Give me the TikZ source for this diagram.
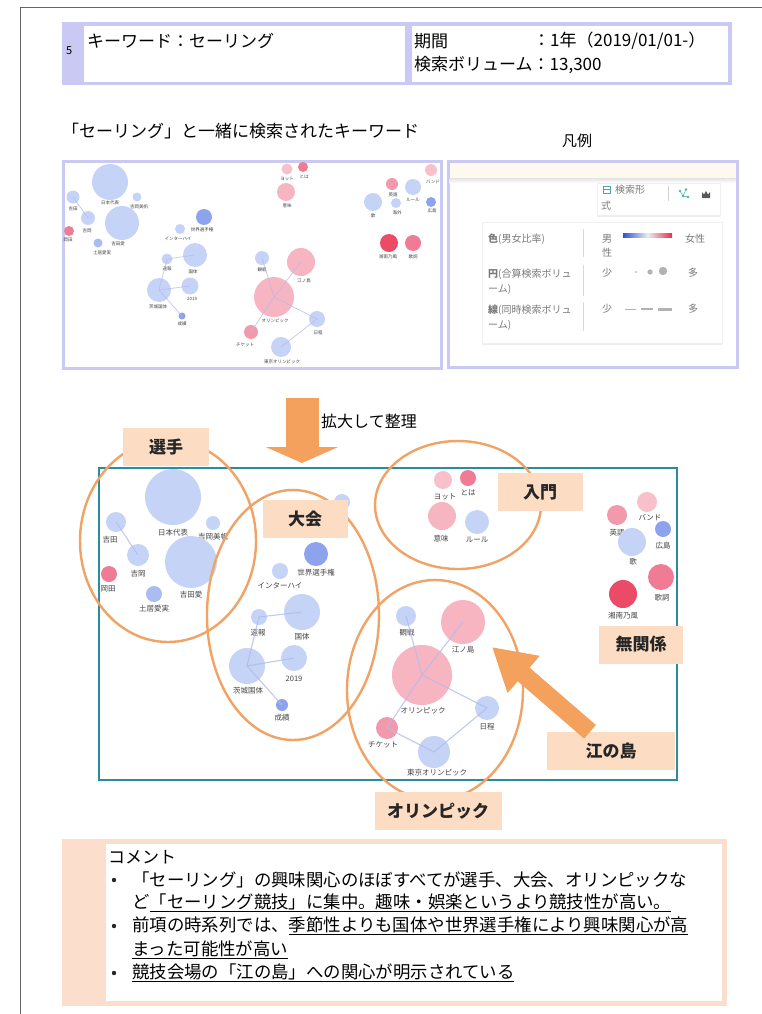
\documentclass[tikz,border=0pt]{standalone}
\usepackage{fontspec}
\setmainfont{Noto Sans CJK JP}
\usetikzlibrary{arrows.meta,shadows,shapes.geometric}
\newcommand\myfs[1]{\fontsize{#1pt}{#1pt}\selectfont}
\definecolor{lav}{HTML}{C9C9F4}
\definecolor{bl}{HTML}{C5D3F6}
\definecolor{bm}{HTML}{AABCF2}
\definecolor{bd}{HTML}{8EA3EE}
\definecolor{pk}{HTML}{F6B5C1}
\definecolor{pl}{HTML}{F7C0CA}
\definecolor{pm}{HTML}{F29AAC}
\definecolor{rd}{HTML}{F07B95}
\definecolor{rr}{HTML}{EC4B68}
\definecolor{org}{HTML}{F4A15E}
\definecolor{orgl}{HTML}{F0A365}
\definecolor{peach}{HTML}{FDDCC4}
\definecolor{peachl}{HTML}{FBDFCC}
\definecolor{tealc}{HTML}{2B8C9E}
\definecolor{edgec}{HTML}{B2BBEE}
\definecolor{lbltxt}{HTML}{444444}
\definecolor{leg}{HTML}{7A7A7A}
\definecolor{cream}{HTML}{FDF9EE}
\definecolor{gb}{HTML}{3552D0}
\definecolor{gr}{HTML}{E8304F}
\definecolor{icon}{HTML}{46B8A8}
\newcommand\bigb[8]{\node[bub,fill=#5,minimum size=#4pt] (#1) at (#2,#3) {};
  \node[blab] (#1-l) at (#7,#8) {#6};}
\newcommand\minib[8]{\node[bub,fill=#5,minimum size=#4pt] (#1) at (#2,#3) {};
  \node[mlab] (#1-l) at (#7,#8) {#6};}
\begin{document}
\begin{tikzpicture}[x=1pt,y=-1pt,
  bub/.style={circle,inner sep=0pt,draw=none},
  blab/.style={font=\myfs{7.5},text=lbltxt,inner sep=0pt},
  mlab/.style={font=\myfs{4.5},text=lbltxt,inner sep=0pt},
  edge/.style={draw=edgec,line width=1.1pt,opacity=0.8},
  medge/.style={draw=edgec,line width=0.7pt,opacity=0.8},
  grp/.style={ellipse,draw=orgl,line width=2.4pt,inner sep=0pt},
  tag/.style={fill=peach,font=\myfs{17}\bfseries,inner sep=0pt,minimum height=38pt,text=black!85},
  panel/.style={draw=lav,line width=3pt,inner sep=0pt},
  card/.style={fill=white,draw=gray!12,line width=0.6pt,inner sep=0pt,drop shadow={opacity=0.15,shadow xshift=0pt,shadow yshift=-2pt}},
  legt/.style={font=\myfs{10},text=leg,inner sep=0pt,anchor=west},
  txt/.style={inner sep=0pt,anchor=west},
  orgarrow/.style={draw=org,line width=18pt,-{Triangle[length=42pt 0 0,width=46pt 0 0]}},
  downarrow/.style={draw=org,line width=33pt,-{Triangle[length=16pt 0 0,width=72pt 0 0]}}
]
\useasboundingbox (0,0) rectangle (762,1014);
\fill[white] (0,0) rectangle (762,1014);
% page border
\draw[gray!80!black,line width=0.8pt] (20,1014) -- (20,7) -- (762,7);

% header
\node[fill=lav,inner sep=0pt,minimum width=670pt,minimum height=63pt] (hdr) at (397,53.5) {};
\node[fill=white,inner sep=0pt,minimum width=321pt,minimum height=56pt] (hdrA) at (244.5,54) {};
\node[fill=white,inner sep=0pt,minimum width=316pt,minimum height=56pt] (hdrB) at (569.5,54) {};
\node[txt,font=\myfs{11}] (num) at (66,51) {5};
\node[txt,font=\myfs{17}] (kw) at (87,41) {キーワード：セーリング};
\node[txt,font=\myfs{17}] (per) at (414,41) {期間};
\node[txt,font=\myfs{17}] (perv) at (533,41) {：1年（2019/01/01-）};
\node[txt,font=\myfs{17}] (vol) at (414,65) {検索ボリューム：13,300};

% section titles
\node[txt,font=\myfs{17}] (sec) at (62,131) {「セーリング」と一緒に検索されたキーワード};
\node[font=\myfs{15},inner sep=0pt] (hanrei) at (577,141) {凡例};

% mini panel
\node[panel,minimum width=378pt,minimum height=207pt] (mini) at (252,264.5) {};
\minib{jpM}{110}{182}{36}{bl}{日本代表}{110}{203}
\minib{ymhM}{137}{197}{9}{bl}{吉岡美帆}{139}{207}
\minib{ydM}{73}{197}{13}{bl}{吉田}{73}{209}
\minib{yoM}{88}{218}{14}{bl}{吉岡}{87}{231}
\minib{yaM}{122}{223}{34}{bl}{吉田愛}{118}{244}
\minib{okM}{69}{231}{10}{rd}{岡田}{68}{240}
\minib{doiM}{98}{243}{9}{bm}{土居愛実}{102}{253}
\minib{wcM}{204}{217}{16}{bd}{世界選手権}{202}{230}
\minib{ihM}{180}{229}{10}{bl}{インターハイ}{178}{239}
\minib{ktM}{195}{255}{24}{bl}{国体}{193}{272}
\minib{sbM}{167}{259}{11}{bl}{速報}{167}{269}
\minib{y19M}{190}{286}{17}{bl}{2019}{192}{299}
\minib{ibM}{159}{290}{24}{bl}{茨城国体}{158}{307}
\minib{sesM}{182}{316}{7}{bd}{成績}{182}{324}
\minib{ytM}{287}{169}{11}{pl}{ヨット}{287}{179}
\minib{tohaM}{303}{167}{10}{rd}{とは}{304}{177}
\minib{imiM}{286}{192}{18}{pk}{意味}{287}{206}
\minib{bandM}{431}{170}{12}{pl}{バンド}{433}{182}
\minib{egM}{392}{184}{12}{pm}{英語}{393}{195}
\minib{ruleM}{413}{187}{16}{bl}{ルール}{413}{200}
\minib{utaM}{373}{202}{18}{bl}{歌}{373}{216}
\minib{kaiM}{396}{203}{10}{bl}{海外}{397}{213}
\minib{hsM}{431}{202}{10}{bd}{広島}{432}{211}
\minib{shM}{389}{243}{18}{rr}{湘南乃風}{388}{257}
\minib{kashiM}{413}{243}{16}{rd}{歌詞}{413}{257}
\minib{kanM}{262}{258}{14}{bl}{観戦}{262}{270}
\minib{enoM}{301}{262}{28}{pk}{江ノ島}{304}{281}
\minib{olyM}{274}{297}{40}{pk}{オリンピック}{275}{321}
\minib{nitM}{317}{319}{16}{bl}{日程}{318}{333}
\minib{tkM}{251}{332}{14}{pm}{チケット}{245}{345}
\minib{tokM}{281}{347}{20}{bl}{東京オリンピック}{282}{362}
\draw[medge] (ydM.center) -- (yoM.center);
\draw[medge] (sbM.center) -- (ktM.center);
\draw[medge] (sbM.center) -- (ibM.center);
\draw[medge] (ibM.center) -- (y19M.center);
\draw[medge] (ibM.center) -- (sesM.center);
\draw[medge] (olyM.center) -- (enoM.center);
\draw[medge] (kanM.center) -- (olyM.center);
\draw[medge] (olyM.center) -- (nitM.center);
\draw[medge] (nitM.center) -- (tokM.center);
\draw[medge] (tkM.center) -- (olyM.center);

% legend panel
\node[panel,minimum width=289pt,minimum height=206pt] (legp) at (592.5,264) {};
\fill[cream] (449.5,162.5) rectangle (735.5,178);
\shade[top color=gray!22,bottom color=white] (449.5,178) rectangle (735.5,183);
\node[card,minimum width=123pt,minimum height=32pt] (card1) at (658.5,199) {};
\draw[tealc!80,line width=0.6pt] (603,186.5) rectangle (610,193.5);
\draw[tealc!80,line width=0.6pt] (603,189) -- (610,189);
\node[legt] (kf1) at (615,190) {検索形};
\node[legt] (kf2) at (601,206) {式};
\draw[gray!35,line width=0.6pt] (668,186) -- (668,201);
\fill[icon] (680,191) circle (1.4) (686,189.5) circle (1.4) (683,196) circle (1.4) (688,197) circle (1.4);
\draw[icon,line width=0.5pt] (680,191) -- (683,196) -- (686,189.5) (683,196) -- (688,197);
\fill[gray!70!black] (702,198) -- (702,192) -- (704,194.5) -- (706,191) -- (708,194.5) -- (710,192) -- (710,198) -- cycle;
\node[card,minimum width=240pt,minimum height=121pt] (card2) at (602,282.5) {};
\node[legt] (r1) at (488,239) {\textbf{色}(男女比率)};
\node[legt] (r2a) at (488,274) {\textbf{円}(合算検索ボリュ};
\node[legt] (r2b) at (488,289) {ーム)};
\node[legt] (r3a) at (488,310) {\textbf{線}(同時検索ボリュ};
\node[legt] (r3b) at (488,325) {ーム)};
\draw[gray!30,line width=0.6pt] (583,229) -- (583,257) (583,265) -- (583,296) (583,302) -- (583,331);
\node[legt] (m1) at (602,239) {男};
\node[legt] (m2) at (602,253) {性};
\shade[left color=gb,right color=gr,middle color=gray!15] (623,233.5) rectangle (672,237);
\node[legt] (f1) at (685,239) {女性};
\node[legt] (s1) at (602,273) {少};
\fill[gray!60] (636,272) circle (1) (650,272) circle (2.6) (663,271) circle (4.2);
\node[legt] (d1) at (688,273) {多};
\node[legt] (s2) at (602,309) {少};
\draw[gray!60,line width=1pt] (625,309) -- (636,309);
\draw[gray!60,line width=2pt] (641,309) -- (653,309);
\draw[gray!60,line width=3pt] (658,309) -- (672,309);
\node[legt] (d2) at (688,309) {多};

% down arrow + caption
\coordinate (dTop) at (302,398);
\coordinate (dTip) at (302,463);
\draw[downarrow] (dTop) -- (dTip);
\node[font=\myfs{16},inner sep=0pt] (kakudai) at (369,421) {拡大して整理};

% big panel
\node[draw=tealc,line width=2pt,inner sep=0pt,minimum width=578pt,minimum height=312pt] (bigp) at (388,624) {};
\bigb{jp}{173}{497}{56}{bl}{日本代表}{173}{533}
\bigb{ymh}{213}{523}{14}{bl}{吉岡美帆}{213}{537}
\bigb{yd}{116}{522}{20}{bl}{吉田}{110}{540}
\bigb{yo}{138}{555}{22}{bl}{吉岡}{138}{574}
\bigb{ya}{191}{562}{52}{bl}{吉田愛}{191}{595}
\bigb{ok}{109}{574}{16}{rd}{岡田}{108}{589}
\bigb{doi}{154}{594}{16}{bm}{土居愛実}{154}{609}
\node[bub,fill=bl,minimum size=16pt] (hid) at (342,502) {};
\bigb{wc}{316}{554}{24}{bd}{世界選手権}{316}{573}
\bigb{ih}{280}{571}{16}{bl}{インターハイ}{280}{586}
\bigb{kt}{302}{612}{36}{bl}{国体}{302}{637}
\bigb{sb}{259}{617}{16}{bl}{速報}{258}{633}
\bigb{y19}{294}{658}{26}{bl}{2019}{294}{679}
\bigb{ib}{247}{666}{36}{bl}{茨城国体}{248}{691}
\bigb{ses}{282}{705}{12}{bd}{成績}{282}{718}
\bigb{yt}{443}{480}{18}{pl}{ヨット}{445}{497}
\bigb{toha}{468}{478}{16}{rd}{とは}{468}{493}
\bigb{imi}{442}{516}{28}{pk}{意味}{441}{539}
\bigb{rule}{477}{522}{24}{bl}{ルール}{477}{540}
\bigb{band}{647}{502}{20}{pl}{バンド}{650}{518}
\bigb{eg}{617}{515}{20}{pm}{英語}{617}{533}
\bigb{hs}{663}{529}{16}{bd}{広島}{663}{546}
\bigb{uta}{632}{542}{28}{bl}{歌}{633}{562}
\bigb{kashi}{661}{577}{26}{rd}{歌詞}{662}{598}
\bigb{sh}{623}{594}{28}{rr}{湘南乃風}{623}{616}
\bigb{kan}{406}{616}{20}{bl}{観戦}{407}{633}
\bigb{eno}{463}{622}{44}{pk}{江ノ島}{463}{650}
\bigb{oly}{422}{675}{60}{pk}{オリンピック}{423}{711}
\bigb{nit}{487}{708}{24}{bl}{日程}{487}{727}
\bigb{tk}{387}{728}{22}{pm}{チケット}{383}{745}
\bigb{tok}{434}{752}{32}{bl}{東京オリンピック}{437}{773}
\draw[edge] (yd.center) -- (yo.center);
\draw[edge] (sb.center) -- (kt.center);
\draw[edge] (sb.center) -- (ib.center);
\draw[edge] (ib.center) -- (y19.center);
\draw[edge] (ib.center) -- (ses.center);
\draw[edge] (oly.center) -- (eno.center);
\draw[edge] (tk.center) -- (oly.center);
\draw[edge] (kan.center) -- (oly.center);
\draw[edge] (oly.center) -- (nit.center);
\draw[edge] (nit.center) -- (tok.center);
\draw[edge] (tk.center) -- (tok.center);

% group ellipses
\node[grp,minimum width=176pt,minimum height=202pt] (gSenshu) at (168,541) {};
\node[grp,minimum width=172pt,minimum height=250pt] (gTaikai) at (293,615) {};
\node[grp,minimum width=166pt,minimum height=128pt] (gNyumon) at (458,505) {};
\node[grp,minimum width=176pt,minimum height=220pt] (gOly) at (435,690) {};

% tags
\node[tag,minimum width=86pt] (tSenshu) at (166,447) {選手};
\node[tag,minimum width=85pt] (tTaikai) at (305,519) {大会};
\node[tag,minimum width=85pt] (tNyumon) at (540,492) {入門};
\node[tag,minimum width=84pt] (tMukankei) at (641,644.5) {無関係};
\node[tag,minimum width=128pt] (tEno) at (611,751) {江の島};
\node[tag,minimum width=127pt] (tOly) at (438,811) {オリンピック};

% arrow to Enoshima
\draw[orgarrow,shorten >=16pt] ([xshift=-21pt]tEno.north) -- (eno);

% comment box
\node[draw=peachl,line width=5pt,inner sep=0pt,minimum width=660pt,minimum height=162pt] (cbox) at (394.5,922) {};
\fill[peachl] (62,839) rectangle (106,1005);
\node[txt,font=\myfs{17}] (c0) at (108,857) {コメント};
\fill[black!85] (114,880) circle (2.2) (114,926) circle (2.2) (114,973) circle (2.2);
\node[txt,font=\myfs{17.4}] (c1) at (132,880) {「セーリング」の興味関心のほぼすべてが選手、大会、オリンピックな};
\node[txt,font=\myfs{17.4}] (c2) at (132,903) {ど\underline{「セーリング競技」に集中。趣味・娯楽というより競技性が高い。}};
\node[txt,font=\myfs{17.4}] (c3) at (132,926) {前項の時系列では、\underline{季節性よりも国体や世界選手権により興味関心が高}};
\node[txt,font=\myfs{17.4}] (c4) at (132,950) {\underline{まった可能性が高い}};
\node[txt,font=\myfs{17.4}] (c5) at (132,973) {\underline{競技会場の「江の島」への関心が明示されている}};
\end{tikzpicture}
\end{document}
